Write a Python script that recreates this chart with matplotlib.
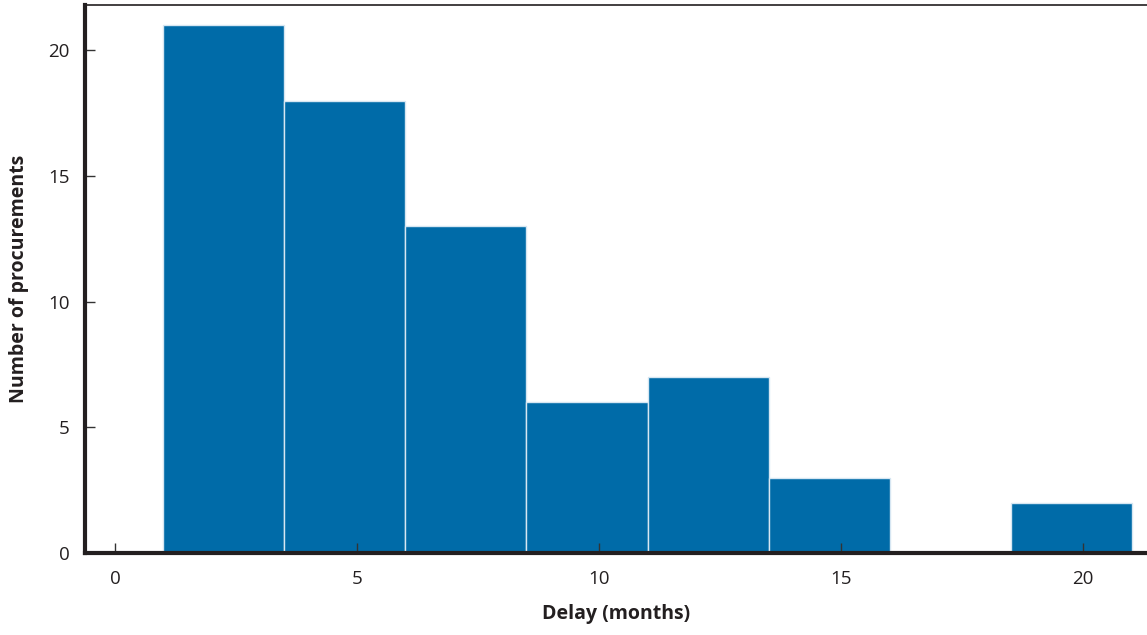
import numpy as np
import matplotlib.pyplot as plt

plt.rcParams['font.family'] = ['Open Sans', 'DejaVu Sans']

# bin edges (months) and counts
bin_edges = [1, 3.5, 6, 8.5, 11, 13.5, 16, 18.5, 21]
counts = [21, 18, 13, 6, 7, 3, 0, 2]
xticks = [0, 5, 10, 15, 20]
yticks = [0, 5, 10, 15, 20]

fig = plt.figure(figsize=(11.47, 6.35), dpi=100)
ax = fig.add_axes([0.0741, 0.129, 0.926, 0.863])

widths = np.diff(bin_edges)
ax.bar(bin_edges[:-1], counts, width=widths, align='edge',
       color='#006ba8', edgecolor='#d6e6f2', linewidth=1)

ax.set_xlim(-0.62, 21.32)
ax.set_ylim(0, 21.8)
ax.set_xticks(xticks)
ax.set_yticks(yticks)
ax.tick_params(direction='in', length=7, width=1, colors='#333333',
               labelsize=13.5, labelcolor='#231f20')
ax.tick_params(axis='x', pad=12)
ax.tick_params(axis='y', pad=11)

for s in ['left', 'bottom']:
    ax.spines[s].set_linewidth(3)
    ax.spines[s].set_color('#231f20')
ax.spines['top'].set_linewidth(1.2)
ax.spines['top'].set_color('#231f20')
ax.spines['right'].set_visible(False)

ax.set_xlabel('Delay (months)', fontsize=14, fontweight='bold',
              color='#231f20', labelpad=12)
ax.set_ylabel('Number of procurements', fontsize=14, fontweight='bold',
              color='#231f20', labelpad=14)

fig.savefig('out.png', dpi=100)
